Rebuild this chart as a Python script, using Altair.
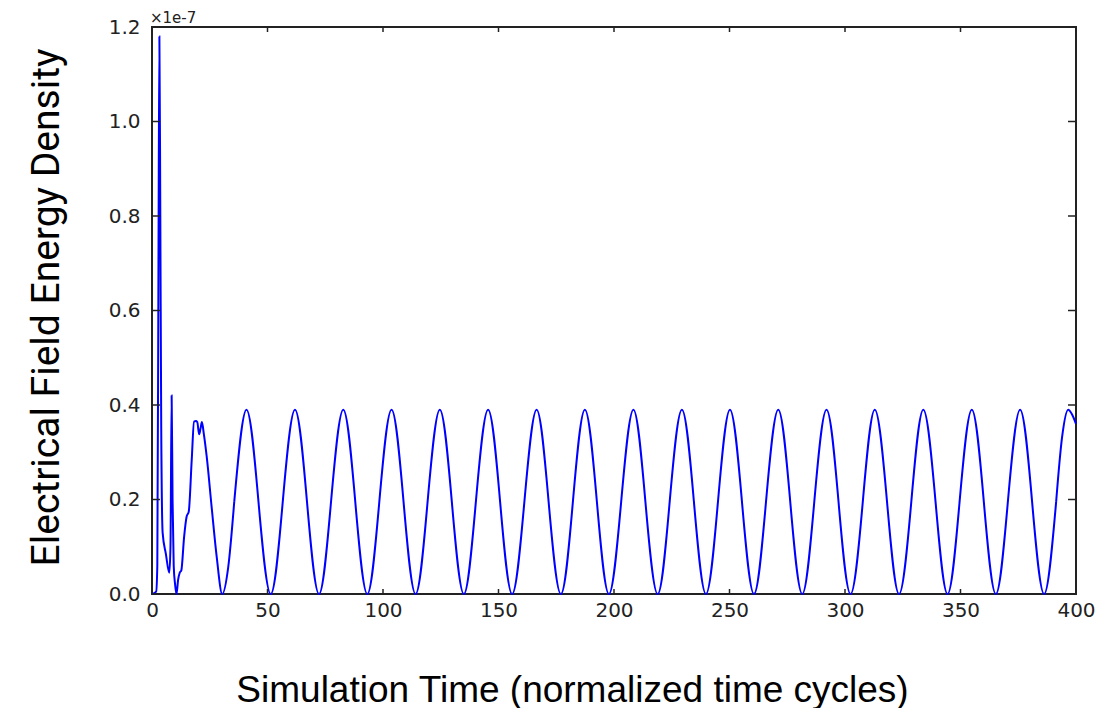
import altair as alt
import pandas as pd

# ---- data (values in units of 1e-7) ----
trans_t = [0.0, 1.8, 2.3, 2.8, 3.2, 3.6, 4.0, 4.6, 6.0, 7.5, 8.0, 8.5, 8.9, 9.4, 10.0, 10.6,
           11.3, 12.0, 12.7, 13.9, 15.0, 15.9, 17.2, 18.2, 19.0, 19.6, 20.4, 21.0, 21.6, 22.4,
           23.7, 25.8, 28.0, 30.4, 33.0, 35.6]
trans_v = [0.0, 0.005, 0.06, 0.7, 1.18, 0.8, 0.35, 0.13, 0.085, 0.045, 0.1, 0.42, 0.2, 0.06, 0.02, 0.0,
           0.03, 0.045, 0.05, 0.121, 0.164, 0.174, 0.284, 0.365, 0.366, 0.364, 0.338, 0.35, 0.364, 0.34,
           0.29, 0.185, 0.079, 0.0, 0.057, 0.195]

osc_t = [35.6, 40.9, 46.1, 51.4, 56.6, 61.9, 67.1, 72.3, 77.5, 82.8, 88.0,
         93.2, 98.4, 103.7, 108.9, 114.1, 119.3, 124.6, 129.8, 135.0, 140.2, 145.5, 150.7,
         155.9, 161.2, 166.5, 171.7, 177.0, 182.2, 187.4, 192.6, 197.8, 203.1, 208.4, 213.6,
         218.9, 224.1, 229.4, 234.6, 239.8, 245.0, 250.2, 255.4, 260.6, 265.8, 271.1, 276.3,
         281.5, 286.7, 292.0, 297.2, 302.4, 307.7, 312.9, 318.2, 323.4, 328.7, 333.9, 339.2,
         344.4, 349.6, 354.9, 360.1, 365.3, 370.5, 375.8, 381.0, 386.2, 391.4]
osc_v = [0.195, 0.39, 0.195, 0.0, 0.195, 0.39, 0.195, 0.0, 0.195, 0.39, 0.195,
         0.0, 0.195, 0.39, 0.195, 0.0, 0.195, 0.39, 0.195, 0.0, 0.195, 0.39, 0.195,
         0.0, 0.195, 0.39, 0.195, 0.0, 0.195, 0.39, 0.195, 0.0, 0.195, 0.39, 0.195,
         0.0, 0.195, 0.39, 0.195, 0.0, 0.195, 0.39, 0.195, 0.0, 0.195, 0.39, 0.195,
         0.0, 0.195, 0.39, 0.195, 0.0, 0.195, 0.39, 0.195, 0.0, 0.195, 0.39, 0.195,
         0.0, 0.195, 0.39, 0.195, 0.0, 0.195, 0.39, 0.195, 0.0, 0.195]

tail_t = [391.4, 394.0, 396.6, 398.3, 400.0]
tail_v = [0.195, 0.333, 0.39, 0.38, 0.36]

x_ticks = [0, 50, 100, 150, 200, 250, 300, 350, 400]
y_ticks = [0.0, 0.2, 0.4, 0.6, 0.8, 1.0, 1.2]
offset_label = ["×1e-7"]

W, H = 924, 567

trans = pd.DataFrame({"t": trans_t, "v": trans_v})
osc = pd.DataFrame({"t": osc_t, "v": osc_v})
tail = pd.DataFrame({"t": tail_t, "v": tail_v})
xt = pd.DataFrame({"t": x_ticks})
yt = pd.DataFrame({"v": y_ticks})
off = pd.DataFrame({"label": offset_label})

xscale = alt.Scale(domain=[0, 400], nice=False, zero=False)
yscale = alt.Scale(domain=[0, 1.2], nice=False)

x_axis = alt.Axis(
    values=x_ticks, format="d", labelFlush=False, labelOverlap=False, labelPadding=6,
    title="Simulation Time (normalized time cycles)", titleFont="Liberation Sans",
    titleFontSize=37, titleFontWeight="normal", titleColor="#000",
    titleX=420, titleY=107, titleAlign="center", titleBaseline="alphabetic",
)
y_axis = alt.Axis(
    values=y_ticks, format=".1f", labelPadding=12, labelOverlap=False,
    title="Electrical Field Energy Density", titleFont="Roboto",
    titleFontSize=39, titleFontWeight="normal", titleColor="#000",
    titleAngle=270, titleX=-94, titleY=280, titleAlign="center", titleBaseline="alphabetic",
)

X = alt.X("t:Q", scale=xscale, axis=x_axis)
Y = alt.Y("v:Q", scale=yscale, axis=y_axis)

line_color = "#0000ff"

trans_line = alt.Chart(trans).mark_line(color=line_color, strokeWidth=2, interpolate="monotone").encode(
    x=X, y=Y)
osc_line = alt.Chart(osc).mark_line(color=line_color, strokeWidth=2, interpolate="natural").encode(
    x=X, y=Y)
tail_line = alt.Chart(tail).mark_line(color=line_color, strokeWidth=2, interpolate="monotone").encode(
    x=X, y=Y)

tick_color = "#222222"
xt_bottom = alt.Chart(xt).mark_rule(color=tick_color, strokeWidth=1.5).encode(
    x=X, y=alt.value(H), y2=alt.value(H - 5))
xt_top = alt.Chart(xt).mark_rule(color=tick_color, strokeWidth=1.5).encode(
    x=X, y=alt.value(0), y2=alt.value(5))
yt_left = alt.Chart(yt).mark_rule(color=tick_color, strokeWidth=1.5).encode(
    y=Y, x=alt.value(0), x2=alt.value(8))
yt_right = alt.Chart(yt).mark_rule(color=tick_color, strokeWidth=1.5).encode(
    y=Y, x=alt.value(W), x2=alt.value(W - 8))

offset_text = alt.Chart(off).mark_text(
    font="DejaVu Sans", fontSize=15, color="#222", align="left", baseline="alphabetic"
).encode(text="label:N", x=alt.value(-2), y=alt.value(-4))

chart = alt.layer(trans_line, osc_line, tail_line, xt_bottom, xt_top, yt_left, yt_right,
                  offset_text).properties(
    width=W, height=H,
    autosize=alt.AutoSizeParams(type="none"),
    padding={"left": 144, "top": 19, "right": 22, "bottom": 114},
).configure_view(
    stroke="#222", strokeWidth=2
).configure_axis(
    grid=False, domain=False, ticks=False,
    labelFont="DejaVu Sans", labelFontSize=20, labelColor="#222",
)

chart.save("out.html", embed_options={"renderer": "svg", "actions": False})
